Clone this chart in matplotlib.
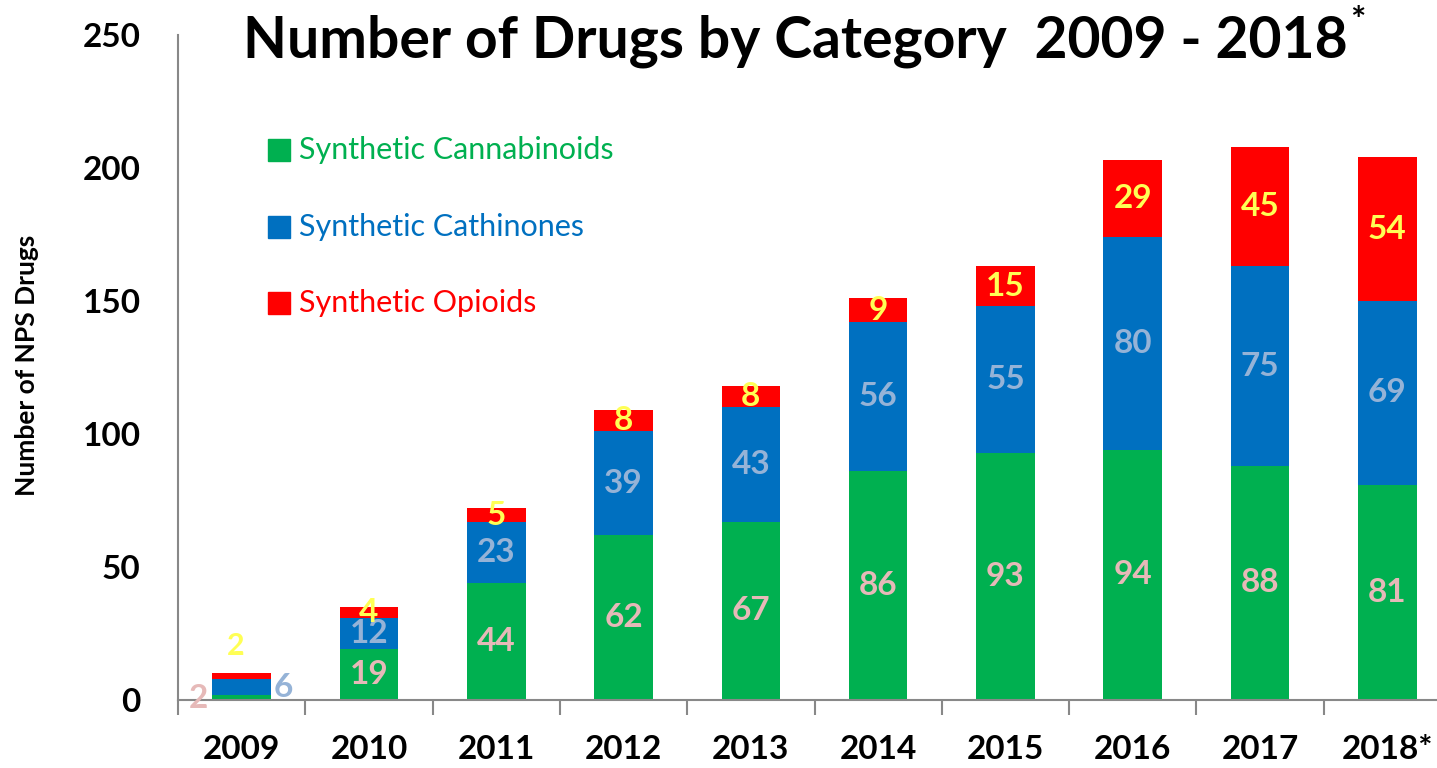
import matplotlib
matplotlib.use("Agg")
import matplotlib.pyplot as plt
import numpy as np

years = ["2009", "2010", "2011", "2012", "2013", "2014", "2015", "2016", "2017", "2018*"]
cannabinoids = [2, 19, 44, 62, 67, 86, 93, 94, 88, 81]
cathinones = [6, 12, 23, 39, 43, 56, 55, 80, 75, 69]
opioids = [2, 4, 5, 8, 8, 9, 15, 29, 45, 54]
series_names = ["Synthetic Cannabinoids", "Synthetic Cathinones", "Synthetic Opioids"]
yticks = [0, 50, 100, 150, 200, 250]

FONT = "Lato"
plt.rcParams['font.family'] = [FONT, 'DejaVu Sans']

c_green, c_blue, c_red = "#00B050", "#0070C0", "#FF0000"
l_green, l_blue, l_red = "#E6B9B8", "#95B3D7", "#FFFF55"

W, H = 1437, 768
fig = plt.figure(figsize=(W / 100, H / 100), dpi=100)
ax = fig.add_axes([178 / W, 68 / H, (1451 - 178) / W, (700 - 35) / H])

x = np.arange(len(years))
bw = 0.46
g = np.array(cannabinoids)
b = np.array(cathinones)
r = np.array(opioids)
ax.bar(x, g, bw, color=c_green, label=series_names[0])
ax.bar(x, b, bw, bottom=g, color=c_blue, label=series_names[1])
ax.bar(x, r, bw, bottom=g + b, color=c_red, label=series_names[2])

ax.set_xlim(-0.5, len(years) - 0.5)
ax.set_ylim(0, 250)

lab_fs = 24
for i in range(len(years)):
    if i == 0:
        ax.annotate(str(g[i]), (x[i], 0), xytext=(-31, 1), textcoords="offset points",
                    ha="center", va="center", color=l_green, fontsize=lab_fs, fontweight="bold")
        ax.annotate(str(b[i]), (x[i], 0), xytext=(30, 9), textcoords="offset points",
                    ha="center", va="center", color=l_blue, fontsize=lab_fs, fontweight="bold")
        ax.annotate(str(r[i]), (x[i], 0), xytext=(-4, 39), textcoords="offset points",
                    ha="center", va="center", color=l_red, fontsize=lab_fs - 2, fontweight="bold")
        continue
    ax.text(x[i], g[i] / 2, str(g[i]), ha="center", va="center", color=l_green,
            fontsize=lab_fs, fontweight="bold")
    ax.text(x[i], g[i] + b[i] / 2, str(b[i]), ha="center", va="center", color=l_blue,
            fontsize=lab_fs, fontweight="bold")
    ax.text(x[i], g[i] + b[i] + r[i] / 2, str(r[i]), ha="center", va="center", color=l_red,
            fontsize=lab_fs, fontweight="bold")

for s in ["top", "right"]:
    ax.spines[s].set_visible(False)
for s in ["left", "bottom"]:
    ax.spines[s].set_color("#888888")
    ax.spines[s].set_linewidth(1.5)

ax.set_yticks(yticks)
ax.set_yticklabels([str(v) for v in yticks], fontsize=24, fontweight="bold")
ax.tick_params(axis="y", length=0, pad=27)

ax.set_xticks(x)
ax.set_xticklabels(years, fontsize=24, fontweight="bold")
ax.set_xticks(np.arange(len(years) + 1) - 0.5, minor=True)
ax.tick_params(axis="x", which="major", length=0, pad=25)
ax.tick_params(axis="x", which="minor", length=11, width=1.5, color="#888888", direction="out")

fig.text(27 / W, 1 - 365 / H, "Number of NPS Drugs", rotation=90, ha="center", va="center",
         fontsize=19, fontweight="bold")

# legend
leg_y = [150, 227, 303]
leg_c = [c_green, c_blue, c_red]
for name, yy, cc in zip(series_names, leg_y, leg_c):
    fig.patches.append(plt.Rectangle((268 / W, 1 - (yy + 11) / H), 22 / W, 22 / H,
                                     transform=fig.transFigure, color=cc))
    fig.text(299 / W, 1 - yy / H, name, color=cc, fontsize=22, ha="left", va="center")

# title
t = fig.text(243 / W, 1 - 57 / H, "Number of Drugs by Category  2009 - 2018",
             fontsize=41, fontweight="bold", ha="left", va="baseline")
fig.canvas.draw()
bb = t.get_window_extent()
fig.text(bb.x1 / W + 2 / W, 1 - 32 / H, "*", fontsize=26, fontweight="bold",
         ha="left", va="baseline")

fig.savefig("out.png", dpi=100)
